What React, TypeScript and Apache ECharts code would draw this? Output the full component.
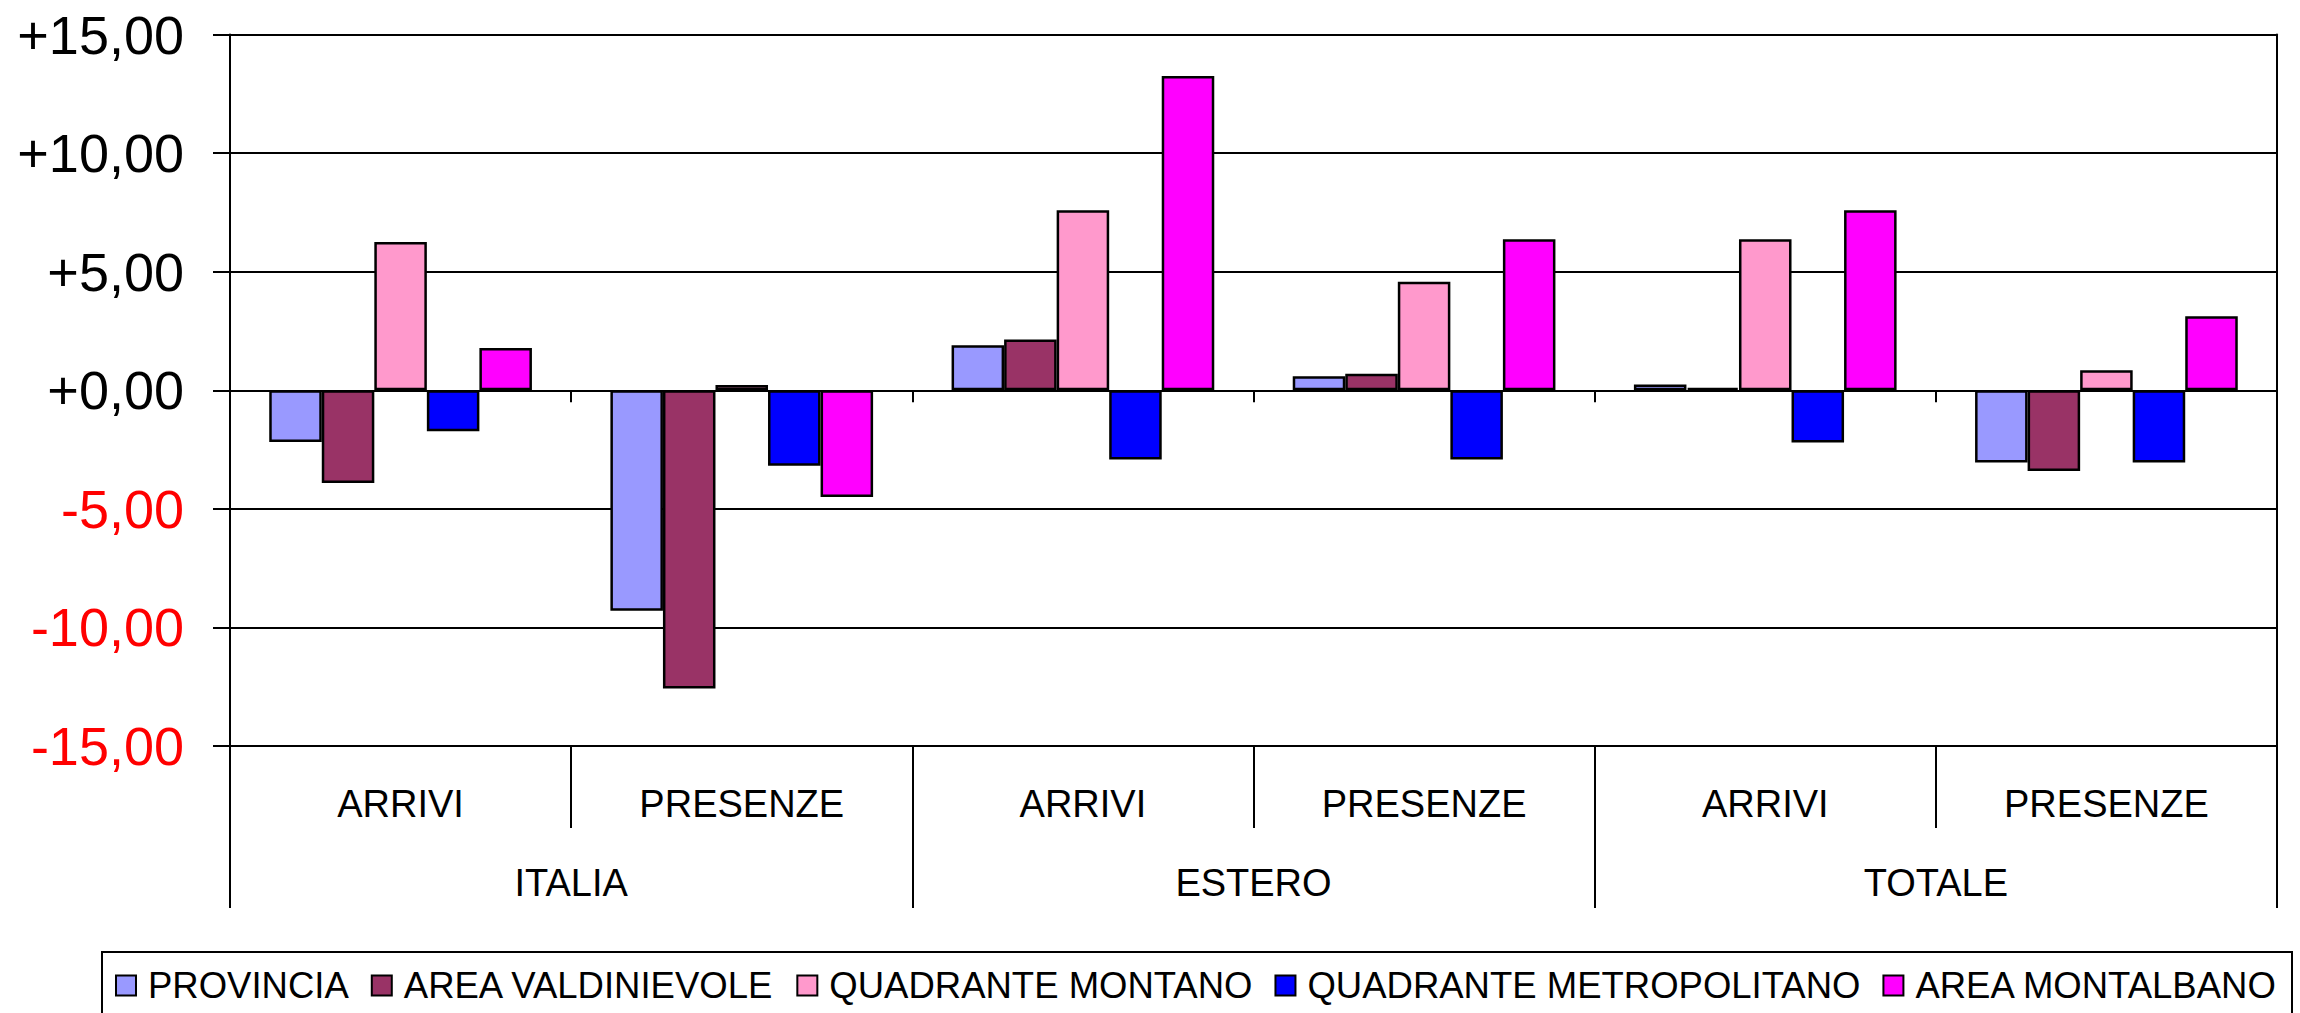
import React, { useEffect, useRef } from "react";
import * as echarts from "echarts";

const subCategories = ["ARRIVI", "PRESENZE", "ARRIVI", "PRESENZE", "ARRIVI", "PRESENZE"];
const mainCategories = ["ITALIA", "ESTERO", "TOTALE"];
const seriesNames = [
  "PROVINCIA",
  "AREA VALDINIEVOLE",
  "QUADRANTE MONTANO",
  "QUADRANTE METROPOLITANO",
  "AREA MONTALBANO",
];
const provincia = [-2.18, -9.3, 1.9, 0.59, 0.24, -3.05];
const valdinievole = [-3.91, -12.58, 2.14, 0.7, 0.1, -3.41];
const montano = [6.25, 0.22, 7.59, 4.57, 6.37, 0.84];
const metropolitano = [-1.73, -3.18, -2.92, -2.92, -2.2, -3.05];
const montalbano = [1.78, -4.5, 13.25, 6.37, 7.59, 3.12];
const seriesValues = [provincia, valdinievole, montano, metropolitano, montalbano];
const seriesColors = ["#9999FF", "#993366", "#FF99CC", "#0000FF", "#FF00FF"];
const yMin = -15;
const yMax = 15;
const yStep = 5;

const FONT = "'Liberation Sans', Arial, sans-serif";

export default function App() {
  const ref = useRef<HTMLDivElement>(null);
  useEffect(() => {
    document.body.style.margin = "0";
    document.body.style.overflow = "hidden";
    if (!ref.current) return;
    const chart = echarts.init(ref.current, undefined, { renderer: "svg" });
    const fmt = (v: number) => {
      const s = Math.abs(v).toFixed(2).replace(".", ",");
      return v < 0 ? "{n|-" + s + "}" : "{p|+" + s + "}";
    };
    chart.setOption({
      animation: false,
      backgroundColor: "#ffffff",
      grid: { left: 230, top: 34.5, width: 2047, height: 711.5 },
      legend: {
        left: 115,
        top: 967,
        padding: 0,
        itemWidth: 20,
        itemHeight: 20,
        itemGap: 22,
        icon: "rect",
        itemStyle: { borderColor: "#000", borderWidth: 2 },
        textStyle: { fontFamily: FONT, fontSize: 36.5, color: "#000", padding: [0, 0, 0, 7] },
        data: seriesNames,
      },
      graphic: [
        {
          type: "rect",
          shape: { x: 102, y: 952, width: 2190, height: 100 },
          style: { fill: "none", stroke: "#000", lineWidth: 2 },
          silent: true,
        },
      ],
      xAxis: [
        {
          type: "category",
          data: subCategories,
          position: "bottom",
          axisLine: { show: true, onZero: true, lineStyle: { color: "#000", width: 1.5 } },
          axisTick: { show: true, length: 12, interval: 0, lineStyle: { color: "#000", width: 2 } },
          axisLabel: { show: false },
          splitLine: { show: false },
        },
        {
          type: "category",
          data: subCategories,
          position: "bottom",
          axisLine: { show: true, onZero: false, lineStyle: { color: "#000", width: 2 } },
          axisTick: { show: true, length: 82, interval: 0, lineStyle: { color: "#000", width: 2 } },
          axisLabel: {
            show: true,
            interval: 0,
            margin: 58,
            verticalAlign: "middle",
            fontFamily: FONT,
            fontSize: 38,
            color: "#000",
          },
          splitLine: { show: false },
        },
        {
          type: "category",
          data: mainCategories,
          position: "bottom",
          axisLine: { show: false, onZero: false },
          axisTick: { show: true, length: 162, interval: 0, lineStyle: { color: "#000", width: 2 } },
          axisLabel: {
            show: true,
            interval: 0,
            margin: 137,
            verticalAlign: "middle",
            fontFamily: FONT,
            fontSize: 38,
            color: "#000",
          },
          splitLine: { show: false },
        },
      ],
      yAxis: [
        {
          type: "value",
          min: yMin,
          max: yMax,
          interval: yStep,
          position: "left",
          axisLine: { show: true, lineStyle: { color: "#000", width: 2 } },
          axisTick: { show: true, length: 17, lineStyle: { color: "#000", width: 2 } },
          axisLabel: {
            margin: 46,
            formatter: fmt,
            fontFamily: FONT,
            fontSize: 54,
            color: "#000",
            rich: {
              n: { color: "#FF0000", fontSize: 54, fontFamily: FONT },
              p: { color: "#000000", fontSize: 54, fontFamily: FONT },
            },
          },
          splitLine: { show: true, lineStyle: { color: "#000", width: 2 } },
        },
        {
          type: "value",
          min: yMin,
          max: yMax,
          interval: yStep,
          position: "right",
          axisLine: { show: true, lineStyle: { color: "#000", width: 2 } },
          axisTick: { show: false },
          axisLabel: { show: false },
          splitLine: { show: false },
        },
      ],
      series: seriesNames.map((name, i) => ({
        name,
        type: "bar",
        xAxisIndex: 0,
        yAxisIndex: 0,
        data: seriesValues[i],
        barGap: "0%",
        barCategoryGap: "23%",
        itemStyle: { color: seriesColors[i], borderColor: "#000", borderWidth: 2.5 },
      })),
    });
    return () => chart.dispose();
  }, []);
  return <div ref={ref} style={{ width: 2300, height: 1013 }} />;
}
